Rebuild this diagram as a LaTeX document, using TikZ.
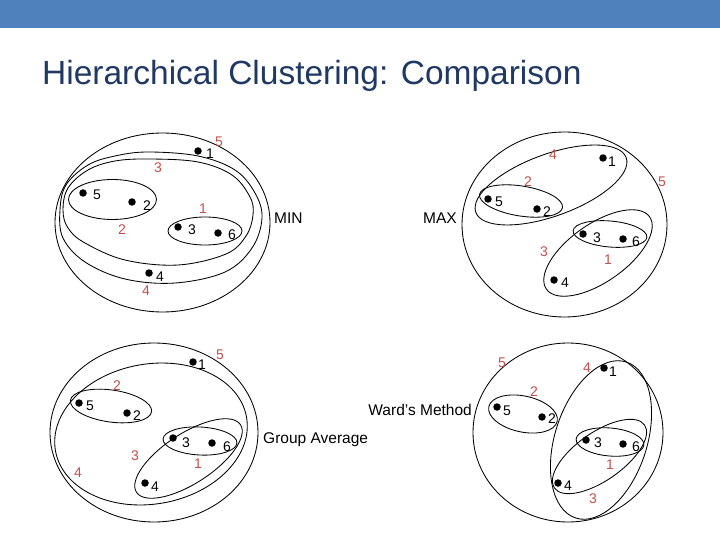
\documentclass[tikz,border=0pt]{standalone}
\usepackage{fontspec}
\setmainfont{Liberation Sans}
\definecolor{bar}{RGB}{79,129,189}
\definecolor{ttl}{RGB}{31,56,100}
\definecolor{rd}{RGB}{192,80,77}
\begin{document}
\begin{tikzpicture}[x=1pt,y=-1pt,
  dot/.style={circle,fill=black,inner sep=0pt,minimum size=7.5pt},
  lbl/.style={font=\fontsize{14}{14}\selectfont,inner sep=0pt},
  rl/.style={lbl,text=rd},
  txt/.style={font=\fontsize{15.5}{16}\selectfont,inner sep=0pt},
  cl/.style={line width=0.85pt}]
\useasboundingbox (0,0) rectangle (720,540);
\fill[bar] (0,0) rectangle (720,28);
\node[anchor=base west,inner sep=0pt,text=ttl,font=\fontsize{33.5}{36}\selectfont] (title) at (42,85) {Hierarchical Clustering: Comparison};

% ---------------- MIN ----------------
\draw[cl] (162.5,222.5) ellipse [x radius=107.5, y radius=89.5];
\draw[cl] plot[smooth cycle,tension=0.6] coordinates {(63,210) (68,188) (88,170) (115,161) (150,159) (198,162) (232,175) (250,197) (253,215) (246,236) (226,254) (178,265) (125,260) (85,243) (68,228)};
\draw[cl] plot[smooth cycle,tension=0.6] coordinates {(60,210) (66,185) (88,165) (115,156) (148,152) (198,156) (235,170) (255,193) (262,218) (252,248) (225,272) (175,283) (125,279) (85,262) (63,238)};
\draw[cl] (112.5,199.5) ellipse [x radius=44, y radius=20];
\draw[cl] (205,231) ellipse [x radius=37, y radius=14];
\node[dot] (n1) at (198,151) {}; \node[lbl] (n1l) at (210,154) {1};
\node[dot] (n5) at (83,193) {};  \node[lbl] (n5l) at (97,195) {5};
\node[dot] (n2) at (132,202) {}; \node[lbl] (n2l) at (147,206) {2};
\node[dot] (n3) at (178,227) {}; \node[lbl] (n3l) at (192,230) {3};
\node[dot] (n6) at (218,233) {}; \node[lbl] (n6l) at (232,235) {6};
\node[dot] (n4) at (149,273) {}; \node[lbl] (n4l) at (160,277) {4};
\node[rl] (nr5) at (219,142) {5};
\node[rl] (nr3) at (158,168) {3};
\node[rl] (nr1) at (203,209) {1};
\node[rl] (nr2) at (122,230) {2};
\node[rl] (nr4) at (146,291) {4};
\node[txt,anchor=west] (tmin) at (274,218) {MIN};

% ---------------- MAX ----------------
\draw[cl] (564.5,224.5) ellipse [x radius=102.5, y radius=92.5];
\draw[cl,rotate around={20:(551,185)}] (551,185) ellipse [x radius=80, y radius=31];
\draw[cl,rotate around={-9:(521,201)}] (521,201) ellipse [x radius=42, y radius=15];
\draw[cl,rotate around={35:(598,253)}] (598,253) ellipse [x radius=63, y radius=29];
\draw[cl,rotate around={-5:(610,234)}] (610,234) ellipse [x radius=37, y radius=13];
\node[dot] (x1) at (603,158) {}; \node[lbl] (x1l) at (612,162) {1};
\node[dot] (x5) at (488,199) {}; \node[lbl] (x5l) at (499,202) {5};
\node[dot] (x2) at (537,209) {}; \node[lbl] (x2l) at (547,212) {2};
\node[dot] (x3) at (583,234) {}; \node[lbl] (x3l) at (597,238) {3};
\node[dot] (x6) at (623,239) {}; \node[lbl] (x6l) at (636,242) {6};
\node[dot] (x4) at (554,280) {}; \node[lbl] (x4l) at (565,283) {4};
\node[rl] (xr4) at (553,155) {4};
\node[rl] (xr2) at (528,182) {2};
\node[rl] (xr5) at (662,182) {5};
\node[rl] (xr3) at (544,252) {3};
\node[rl] (xr1) at (608,260) {1};
\node[txt,anchor=east] (tmax) at (457,218) {MAX};

% ---------------- Group Average ----------------
\draw[cl] (154,432.5) ellipse [x radius=104, y radius=89.5];
\draw[cl,rotate around={10:(151,434)}] (151,434) ellipse [x radius=97, y radius=70];
\draw[cl,rotate around={-8:(111,406)}] (111,406) ellipse [x radius=41, y radius=16];
\draw[cl,rotate around={33:(188.5,458.5)}] (188.5,458.5) ellipse [x radius=62, y radius=25];
\draw[cl,rotate around={-3:(200,441)}] (200,441) ellipse [x radius=37, y radius=14];
\node[dot] (g1) at (193,362) {}; \node[lbl] (g1l) at (202,365) {1};
\node[dot] (g5) at (79,403) {};  \node[lbl] (g5l) at (90,406) {5};
\node[dot] (g2) at (127,413) {}; \node[lbl] (g2l) at (137,416) {2};
\node[dot] (g3) at (173,438) {}; \node[lbl] (g3l) at (186,443) {3};
\node[dot] (g6) at (212,443) {}; \node[lbl] (g6l) at (227,447) {6};
\node[dot] (g4) at (145,483) {}; \node[lbl] (g4l) at (155,487) {4};
\node[rl] (gr5) at (220,355) {5};
\node[rl] (gr2) at (117,386) {2};
\node[rl] (gr3) at (135,456) {3};
\node[rl] (gr1) at (198,464) {1};
\node[rl] (gr4) at (78,473) {4};
\node[txt,anchor=west] (tgrp) at (263,440) {Group Average};

% ---------------- Ward ----------------
\draw[cl] (568,432.5) ellipse [x radius=95, y radius=89.5];
\draw[cl,rotate around={72:(601,440)}] (601,440) ellipse [x radius=82, y radius=46];
\draw[cl,rotate around={-12:(523,414)}] (523,414) ellipse [x radius=35, y radius=18];
\draw[cl,rotate around={35:(599.5,456.5)}] (599.5,456.5) ellipse [x radius=55, y radius=24];
\draw[cl,rotate around={-5:(610,442)}] (610,442) ellipse [x radius=34, y radius=14];
\node[dot] (w1) at (604,368) {}; \node[lbl] (w1l) at (613,372) {1};
\node[dot] (w5) at (497,407) {}; \node[lbl] (w5l) at (507,411) {5};
\node[dot] (w2) at (542,417) {}; \node[lbl] (w2l) at (552,419) {2};
\node[dot] (w3) at (586,440) {}; \node[lbl] (w3l) at (598,443) {3};
\node[dot] (w6) at (623,444) {}; \node[lbl] (w6l) at (636,447) {6};
\node[dot] (w4) at (558,483) {}; \node[lbl] (w4l) at (568,486) {4};
\node[rl] (wr5) at (502,363) {5};
\node[rl] (wr4) at (587,368) {4};
\node[rl] (wr2) at (534,392) {2};
\node[rl] (wr1) at (610,465) {1};
\node[rl] (wr3) at (593,499) {3};
\node[txt,anchor=east] (tward) at (472,410) {Ward's Method};
\end{tikzpicture}
\end{document}
